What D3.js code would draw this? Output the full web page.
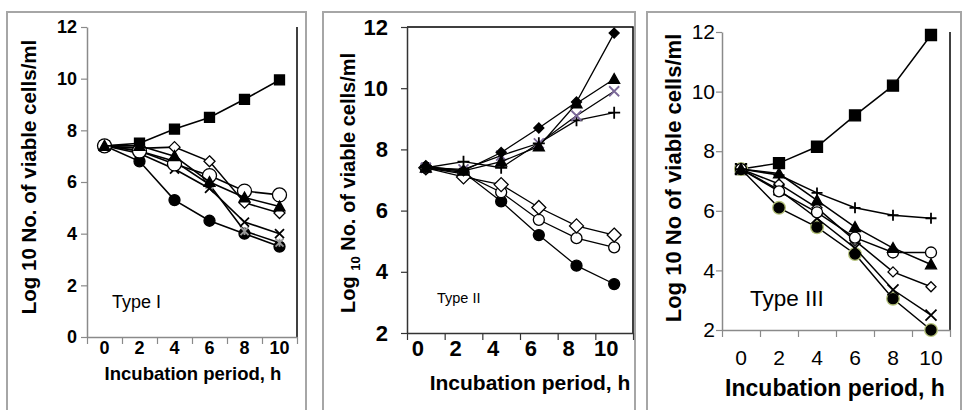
<!DOCTYPE html>
<html>
<head>
<meta charset="utf-8">
<script src="https://cdn.jsdelivr.net/npm/d3@7"></script>
<style>
body { margin: 0; background: #fff; }
text { font-family: "Liberation Sans", Arial, sans-serif; fill: #000; }
</style>
</head>
<body>
<script>
// incubation times, h
var hours = [0, 2, 4, 6, 8, 10];

// Type I  (log10 viable cells/ml)
var t1Square   = [7.4, 7.5, 8.05, 8.5, 9.2, 9.95];
var t1Diamond  = [7.4, 7.3, 7.35, 6.8, 5.2, 4.8];
var t1Circle   = [7.4, 7.2, 6.7, 6.25, 5.65, 5.5];
var t1Triangle = [7.4, 7.4, 7.0, 6.0, 5.4, 5.05];
var t1Cross    = [7.4, 7.1, 6.5, 5.75, 4.45, 4.0];
var t1Star     = [7.4, 7.2, 6.8, 5.9, 4.1, 3.65];
var t1Dot      = [7.4, 6.8, 5.3, 4.5, 4.0, 3.5];

// Type II
var t2DiamondFill = [7.45, 7.3, 7.9, 8.7, 9.55, 11.8];
var t2Triangle    = [7.4, 7.3, 7.6, 8.1, 9.5, 10.3];
var t2Cross       = [7.4, 7.35, 7.8, 8.2, 9.1, 9.9];
var t2Plus        = [7.4, 7.6, 7.4, 8.2, 8.95, 9.2];
var t2Diamond     = [7.4, 7.1, 6.85, 6.1, 5.5, 5.2];
var t2Circle      = [7.4, 7.2, 6.6, 5.7, 5.1, 4.8];
var t2Dot         = [7.4, 7.25, 6.3, 5.2, 4.2, 3.6];

// Type III
var t3Square   = [7.4, 7.6, 8.15, 9.2, 10.2, 11.9];
var t3Plus     = [7.4, 7.2, 6.6, 6.1, 5.85, 5.75];
var t3Triangle = [7.4, 7.25, 6.35, 5.45, 4.75, 4.2];
var t3Circle   = [7.4, 6.65, 5.95, 5.1, 4.6, 4.6];
var t3Diamond  = [7.4, 6.9, 6.1, 5.0, 3.95, 3.45];
var t3Cross    = [7.4, 6.7, 5.75, 4.75, 3.35, 2.5];
var t3Dot      = [7.4, 6.1, 5.45, 4.55, 3.05, 2.0];

var ticks0 = [0, 2, 4, 6, 8, 10, 12];
var ticks2 = [2, 4, 6, 8, 10, 12];

var svg = d3.select("body").append("svg")
    .attr("width", 962).attr("height", 410);

// marker outlines, centred on 0,0
function shapePath(kind, r) {
  var p = d3.path();
  if (kind == "circle") {
    p.arc(0, 0, r, 0, 2 * Math.PI);
  } else if (kind == "square") {
    p.rect(-r, -r, 2 * r, 2 * r);
  } else if (kind == "diamond") {
    p.moveTo(0, -r); p.lineTo(r, 0); p.lineTo(0, r); p.lineTo(-r, 0); p.closePath();
  } else if (kind == "triangle") {
    p.moveTo(0, -r); p.lineTo(r, r * 0.8); p.lineTo(-r, r * 0.8); p.closePath();
  } else if (kind == "cross") {
    p.moveTo(-r, -r); p.lineTo(r, r); p.moveTo(-r, r); p.lineTo(r, -r);
  } else if (kind == "plus") {
    p.moveTo(-r, 0); p.lineTo(r, 0); p.moveTo(0, -r); p.lineTo(0, r);
  } else if (kind == "star") {
    p.moveTo(-r, -r); p.lineTo(r, r); p.moveTo(-r, r); p.lineTo(r, -r);
    p.moveTo(0, -r); p.lineTo(0, r);
  }
  return p.toString();
}

var panels = [
  {
    frame: [7, 306], left: 87, right: 297, top: 27, bottom: 337,
    yDomain: [0, 12], yTicks: ticks0, weight: "bold", axisColor: "#8a8a8a",
    tickFont: 18, yPad: 4, xPad: 4, xDx: 0,
    xTitle: { x: 193, y: 380, size: 18.5 },
    yTitle: { x: 28, y: 177, size: 20.5, parts: ["Log 10 No. of viable cells/ml"] },
    typeLabel: { text: "Type I", x: 112, y: 308, size: 18 },
    borderTop: false, lineWidth: 1.6,
    series: [
      { v: t1Square, shape: "square", r: 5, fill: "#000" },
      { v: t1Dot, shape: "circle", r: 5.5, fill: "#000" },
      { v: t1Star, shape: "star", r: 4, fill: "none", stroke: "#999" },
      { v: t1Cross, shape: "cross", r: 4.5, fill: "none" },
      { v: t1Diamond, shape: "diamond", r: 5.5, fill: "#fff" },
      { v: t1Circle, shape: "circle", r: 7, fill: "#fff" },
      { v: t1Triangle, shape: "triangle", r: 5.5, fill: "#000" }
    ]
  },
  {
    frame: [323, 635], left: 407, right: 633, top: 27, bottom: 333,
    yDomain: [2, 12], yTicks: ticks2, weight: "bold", axisColor: "#333",
    tickFont: 22, yPad: 13, xPad: 7, xDx: -8,
    xTitle: { x: 530, y: 390, size: 21 },
    yTitle: { x: 348, y: 183, size: 20, parts: ["Log ", "10", " No. of viable cells/ml"] },
    typeLabel: { text: "Type II", x: 437, y: 303, size: 14.5 },
    borderTop: true, lineWidth: 1.3,
    series: [
      { v: t2Dot, shape: "circle", r: 5.5, fill: "#000" },
      { v: t2Circle, shape: "circle", r: 5.5, fill: "#fff" },
      { v: t2Diamond, shape: "diamond", r: 7, fill: "#fff" },
      { v: t2Plus, shape: "plus", r: 6, fill: "none" },
      { v: t2Cross, shape: "cross", r: 5, fill: "none", stroke: "#7a6898" },
      { v: t2Triangle, shape: "triangle", r: 5.5, fill: "#000" },
      { v: t2DiamondFill, shape: "diamond", r: 5, fill: "#000" }
    ]
  },
  {
    frame: [647, 961], left: 722, right: 950, top: 32, bottom: 330,
    yDomain: [2, 12], yTicks: ticks2, weight: "normal", axisColor: "#8a8a8a",
    tickFont: 21, yPad: 1, xPad: 20, xDx: 0,
    xTitle: { x: 835, y: 396, size: 23 },
    yTitle: { x: 673, y: 178, size: 22, parts: ["Log 10 No of viable cells/ml"] },
    typeLabel: { text: "Type III", x: 750, y: 306, size: 22.5 },
    borderTop: false, lineWidth: 1.5,
    series: [
      { v: t3Square, shape: "square", r: 5.5, fill: "#000" },
      { v: t3Dot, shape: "circle", r: 5, fill: "#000", halo: "#b4c17a" },
      { v: t3Cross, shape: "cross", r: 5.5, fill: "none" },
      { v: t3Diamond, shape: "diamond", r: 5, fill: "#fff" },
      { v: t3Circle, shape: "circle", r: 5.5, fill: "#fff" },
      { v: t3Triangle, shape: "triangle", r: 5.5, fill: "#000" },
      { v: t3Plus, shape: "plus", r: 5.5, fill: "none" }
    ]
  }
];

panels.forEach(drawPanel);

function drawPanel(cfg) {
  var g = svg.append("g");

  // grey picture frame
  g.append("path")
    .attr("d", "M" + cfg.frame[0] + ",420V12H" + cfg.frame[1] + "V420")
    .attr("fill", "none").attr("stroke", "#a6a6a6").attr("stroke-width", 2);

  var x = d3.scaleBand().domain(hours).range([cfg.left, cfg.right]);
  var xEdge = d3.scaleLinear().domain([0, hours.length]).range([cfg.left, cfg.right]);
  var y = d3.scaleLinear().domain(cfg.yDomain).range([cfg.bottom, cfg.top]);

  // plot border (right, maybe top)
  var bd = "M" + cfg.right + "," + cfg.bottom + "V" + cfg.top;
  if (cfg.borderTop) bd += "H" + cfg.left;
  g.append("path").attr("d", bd).attr("fill", "none")
    .attr("stroke", "#000").attr("stroke-width", 1.5);

  // y axis
  var ya = g.append("g")
    .attr("transform", "translate(" + cfg.left + ",0)")
    .call(d3.axisLeft(y).tickValues(cfg.yTicks).tickSize(6).tickSizeOuter(0)
      .tickPadding(cfg.yPad).tickFormat(d3.format("d")));
  ya.select(".domain").attr("stroke", cfg.axisColor).attr("stroke-width", 1.5);
  ya.selectAll(".tick line").attr("stroke", cfg.axisColor).attr("stroke-width", 1.2);
  ya.selectAll("text").attr("font-size", cfg.tickFont).attr("font-weight", cfg.weight)
    .attr("font-family", "Liberation Sans, Arial, sans-serif").attr("fill", "#000");

  // x axis: ticks on category edges, labels in the middle
  var xt = g.append("g")
    .attr("transform", "translate(0," + cfg.bottom + ")")
    .call(d3.axisBottom(xEdge).ticks(hours.length).tickSize(7).tickSizeOuter(0).tickFormat(""));
  xt.select(".domain").attr("stroke", cfg.axisColor).attr("stroke-width", 1.5);
  xt.selectAll(".tick line").attr("stroke", cfg.axisColor).attr("stroke-width", 1.2);

  var xl = g.append("g")
    .attr("transform", "translate(0," + cfg.bottom + ")")
    .call(d3.axisBottom(x).tickSize(0).tickPadding(cfg.xPad));
  xl.select(".domain").remove();
  xl.selectAll("text").attr("font-size", cfg.tickFont).attr("font-weight", cfg.weight)
    .attr("font-family", "Liberation Sans, Arial, sans-serif").attr("fill", "#000")
    .attr("dx", cfg.xDx);

  // titles
  g.append("text")
    .attr("x", cfg.xTitle.x).attr("y", cfg.xTitle.y)
    .attr("text-anchor", "middle").attr("font-weight", "bold")
    .attr("font-size", cfg.xTitle.size)
    .text("Incubation period, h");

  var yt = g.append("text")
    .attr("transform", "translate(" + cfg.yTitle.x + "," + cfg.yTitle.y + ") rotate(-90)")
    .attr("text-anchor", "middle").attr("dominant-baseline", "central")
    .attr("font-weight", "bold").attr("font-size", cfg.yTitle.size);
  cfg.yTitle.parts.forEach(function(t, i) {
    var s = yt.append("tspan").text(t);
    if (i == 1) s.attr("font-size", cfg.yTitle.size * 0.65).attr("baseline-shift", "sub");
  });

  g.append("text")
    .attr("x", cfg.typeLabel.x).attr("y", cfg.typeLabel.y)
    .attr("font-size", cfg.typeLabel.size)
    .text(cfg.typeLabel.text);

  // series
  var line = d3.line()
    .x(function(d, i) { return x(hours[i]) + x.bandwidth() / 2; })
    .y(function(d) { return y(d); });

  cfg.series.forEach(function(s) {
    var col = s.stroke || "#000";
    g.append("path")
      .attr("d", line(s.v))
      .attr("fill", "none").attr("stroke", "#000").attr("stroke-width", cfg.lineWidth);

    var m = g.append("g").selectAll("g")
      .data(s.v)
      .enter().append("g")
      .attr("transform", function(d, i) {
        return "translate(" + (x(hours[i]) + x.bandwidth() / 2) + "," + y(d) + ")";
      });
    if (s.halo) {
      m.append("path").attr("d", shapePath("circle", s.r + 2))
        .attr("fill", s.halo);
    }
    m.append("path")
      .attr("d", shapePath(s.shape, s.r))
      .attr("fill", s.fill)
      .attr("stroke", col)
      .attr("stroke-width", (s.shape == "cross" || s.shape == "plus" || s.shape == "star") ? 1.8 : 1.3);
  });
}
</script>
</body>
</html>
